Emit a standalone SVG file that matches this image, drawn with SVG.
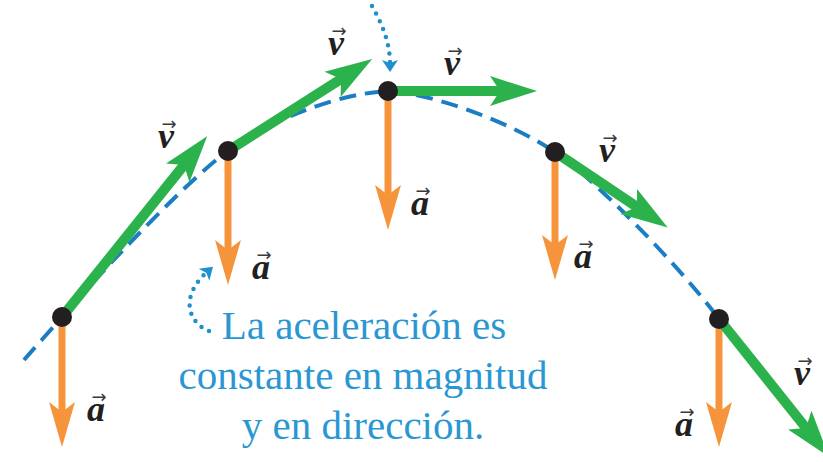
<svg xmlns="http://www.w3.org/2000/svg" width="823" height="462" viewBox="0 0 823 462">
<defs>
<style>
.traj{fill:none;stroke:#1b7ec5;stroke-width:4;stroke-dasharray:17 9}
.vel{stroke:#2bb24c;stroke-width:10;fill:none;marker-end:url(#gh)}
.acc{stroke:#f6943c;stroke-width:7;fill:none;marker-end:url(#oh)}
.dot{fill:#231f20}
.lbl{font-family:'Liberation Serif','Times New Roman',serif;font-weight:bold;font-style:italic;font-size:36px;fill:#231f20;text-anchor:middle}
.arr{font-family:'DejaVu Sans',sans-serif;font-size:18px;fill:#3a3a3a;text-anchor:middle}
.cap{font-family:'Liberation Serif','Times New Roman',serif;font-size:41px;fill:#2a97d3;text-anchor:middle}
.call{fill:none;stroke:#1f8fd0;stroke-width:4.5;stroke-linecap:round;stroke-dasharray:0 8.5;marker-end:url(#bh)}
</style>
<marker id="gh" markerUnits="userSpaceOnUse" orient="auto" overflow="visible" refX="0" refY="0" markerWidth="1" markerHeight="1">
<path d="M-10 -15 L37 0 L-10 15 L0 0Z" fill="#2bb24c"/>
</marker>
<marker id="oh" markerUnits="userSpaceOnUse" orient="auto" overflow="visible" refX="0" refY="0" markerWidth="1" markerHeight="1">
<path d="M-10 -13 L35 0 L-10 13 L0 0Z" fill="#f6943c"/>
</marker>
<marker id="bh" markerUnits="userSpaceOnUse" orient="auto" overflow="visible" refX="0" refY="0" markerWidth="1" markerHeight="1">
<path d="M-4 -8 L8 0 L-4 8 L-1 0Z" fill="#1f8fd0"/>
</marker>
</defs>

<g id="connectors">
<path id="trajectory" class="traj" d="M24 360 C36 346 50 331 62 317 C108 264 191 177 228 151 C266 123 333 94 388 91 C430 93 509 121 555 152 C592 177 677 263 719 319"/>
</g>

<g id="pos1">
<line class="acc" x1="62" y1="317" x2="62" y2="412"/>
<line class="vel" x1="62" y1="317" x2="184" y2="165"/>
<circle class="dot" cx="62" cy="317" r="10"/>
<text class="arr" x="169" y="130">→</text>
<text class="lbl" x="166" y="148">v</text>
<text class="arr" x="99" y="403">→</text>
<text class="lbl" x="96" y="421">a</text>
</g>

<g id="pos2">
<line class="acc" x1="228" y1="151" x2="228" y2="250"/>
<line class="vel" x1="228" y1="151" x2="341" y2="79"/>
<circle class="dot" cx="228" cy="151" r="10"/>
<text class="arr" x="339" y="37">→</text>
<text class="lbl" x="336" y="55">v</text>
<text class="arr" x="264" y="261">→</text>
<text class="lbl" x="261" y="279">a</text>
</g>

<g id="pos3">
<line class="acc" x1="388" y1="91" x2="388" y2="195"/>
<line class="vel" x1="388" y1="91" x2="500" y2="91"/>
<circle class="dot" cx="388" cy="91" r="10"/>
<text class="arr" x="455" y="57">→</text>
<text class="lbl" x="452" y="75">v</text>
<text class="arr" x="423" y="197">→</text>
<text class="lbl" x="420" y="215">a</text>
</g>

<g id="pos4">
<line class="acc" x1="555" y1="152" x2="555" y2="245"/>
<line class="vel" x1="555" y1="152" x2="637" y2="207"/>
<circle class="dot" cx="555" cy="152" r="10"/>
<text class="arr" x="610" y="144">→</text>
<text class="lbl" x="607" y="162">v</text>
<text class="arr" x="586" y="250">→</text>
<text class="lbl" x="583" y="268">a</text>
</g>

<g id="pos5">
<line class="acc" x1="719" y1="319" x2="719" y2="412"/>
<line class="vel" x1="719" y1="319" x2="806" y2="428"/>
<circle class="dot" cx="719" cy="319" r="10"/>
<text class="arr" x="805" y="367">→</text>
<text class="lbl" x="802" y="385">v</text>
<text class="arr" x="687" y="418">→</text>
<text class="lbl" x="684" y="436">a</text>
</g>

<g id="callouts">
<path class="call" d="M372 6 C382 24 390 42 390 64"/>
<path class="call" d="M209 331 C190 324 178 298 207 272"/>
</g>

<g id="caption">
<text class="cap" x="364" y="339">La aceleración es</text>
<text class="cap" x="363" y="389">constante en magnitud</text>
<text class="cap" x="363" y="439">y en dirección.</text>
</g>
</svg>
